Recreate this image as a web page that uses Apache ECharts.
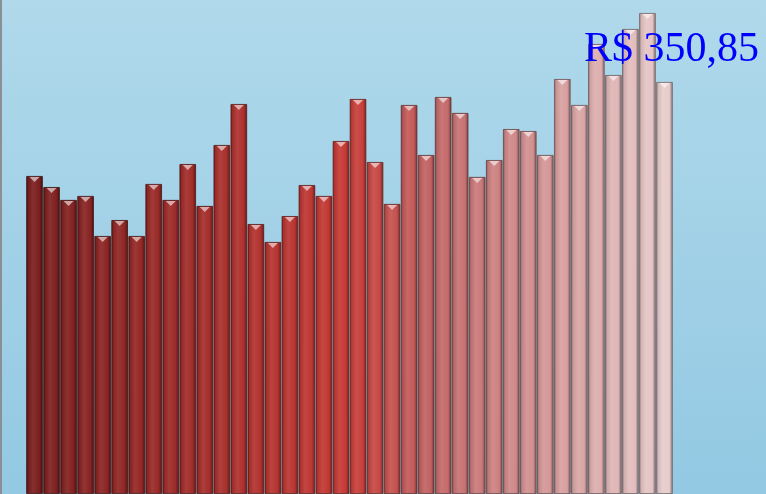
<!DOCTYPE html>
<html>
<head>
<meta charset="utf-8">
<script src="https://cdn.jsdelivr.net/npm/echarts@6/dist/echarts.min.js"></script>
<style>
html,body{margin:0;padding:0;}
#c{width:766px;height:494px;}
</style>
</head>
<body>
<div id="c"></div>
<script>
const categories = ['1','2','3','4','5','6','7','8','9','10','11','12','13','14','15','16','17','18','19','20','21','22','23','24','25','26','27','28','29','30','31','32','33','34','35','36','37','38'];
const prices = [270.8,261.4,250.4,253.8,219.7,233.3,219.7,264.0,250.4,281.0,245.3,297.2,332.1,229.9,214.6,236.7,263.1,253.8,300.6,336.4,282.7,247.0,331.3,288.7,338.1,324.5,270.0,284.4,310.8,309.1,288.7,353.4,331.3,383.2,356.8,396.0,409.6,350.85];
const titleText = 'R$ 350,85';

function lerp(a,b,t){return a+(b-a)*t;}
function mix(c1,c2,t){return [0,1,2].map(i=>Math.round(lerp(c1[i],c2[i],t)));}
function rgb(c){return 'rgb('+c.join(',')+')';}
function shade(c,f){return c.map(v=>Math.max(0,Math.min(255,Math.round(f>0? v+(255-v)*f : v*(1+f)))));}
const stops = [[0,[122,30,30]],[0.5,[200,58,53]],[0.62,[194,98,98]],[1,[232,204,204]]];
function baseColor(t){
  for(let i=0;i<stops.length-1;i++){
    if(t<=stops[i+1][0]){const u=(t-stops[i][0])/(stops[i+1][0]-stops[i][0]);return mix(stops[i][1],stops[i+1][1],u);}
  }
  return stops[stops.length-1][1];
}
const n = prices.length;
const barData = prices.map((v,i)=>{
  const b = baseColor(i/(n-1));
  return {
    value: v,
    itemStyle:{
      color: new echarts.graphic.LinearGradient(0,0,1,0,[
        {offset:0,color:rgb(shade(b,-0.4))},
        {offset:0.12,color:rgb(shade(b,-0.08))},
        {offset:0.4,color:rgb(shade(b,0.08))},
        {offset:0.8,color:rgb(b)},
        {offset:1,color:rgb(shade(b,-0.45))}
      ]),
      borderColor: rgb(shade(b,-0.5)),
      borderWidth: 0.8
    }
  };
});
const capData = prices.map((v,i)=>{
  const b = baseColor(i/(n-1));
  return {value:v, itemStyle:{color: rgb(shade(b,0.6))}};
});

const chart = echarts.init(document.getElementById('c'));
chart.setOption({
  animation:false,
  backgroundColor: new echarts.graphic.LinearGradient(0,0,0,1,[
    {offset:0,color:'#b0d9eb'},{offset:1,color:'#93c9e3'}
  ]),
  title:{
    text: titleText,
    left: 579, top: 24,
    textStyle:{color:'#0000ff',fontFamily:'Liberation Serif',fontSize:42,fontWeight:'normal'}
  },
  grid:{left:26,right:93,top:0,bottom:0},
  xAxis:{type:'category',data:categories,axisLine:{show:false},axisTick:{show:false},axisLabel:{show:false}},
  yAxis:{type:'value',min:0,max:420.7,axisLine:{show:false},axisTick:{show:false},axisLabel:{show:false},splitLine:{show:false}},
  graphic:[{type:'rect',shape:{x:0,y:0,width:2,height:494},style:{fill:'#8a8f94'}}],
  series:[
    {type:'bar',data:barData,barCategoryGap:'3%',z:2},
    {type:'pictorialBar',data:capData,symbol:'triangle',symbolRotate:180,symbolSize:[10,5],symbolPosition:'end',symbolOffset:[0,1],z:3}
  ]
});
</script>
</body>
</html>
